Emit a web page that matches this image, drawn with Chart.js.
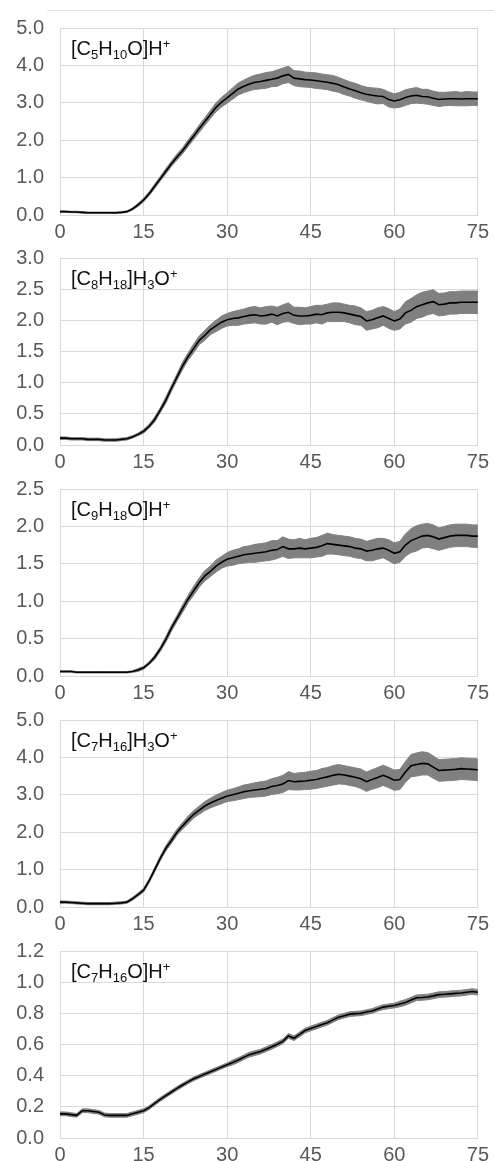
<!DOCTYPE html>
<html>
<head>
<meta charset="utf-8">
<script src="https://cdn.jsdelivr.net/npm/chart.js@4.4.1/dist/chart.umd.min.js"></script>
<style>
  html, body { margin: 0; padding: 0; background: #fff; overflow: hidden; }
  #page { position: relative; width: 494px; height: 1161px; }
  .frame-line { position: absolute; left: 47px; top: 10px; width: 447px; height: 1px; background: #e3e3e3; }
  .panel { position: absolute; left: 0; width: 494px; height: 250px; }
</style>
</head>
<body>
<div id="page">
  <div class="frame-line"></div>
  <div class="panel" style="top:0px"><canvas id="c1"></canvas></div>
  <div class="panel" style="top:230px"><canvas id="c2"></canvas></div>
  <div class="panel" style="top:461px"><canvas id="c3"></canvas></div>
  <div class="panel" style="top:692px"><canvas id="c4"></canvas></div>
  <div class="panel" style="top:923px"><canvas id="c5"></canvas></div>
</div>
<script>
// time axis (min)
const times = [0,1,2,3,4,5,6,7,8,9,10,11,12,13,14,15,16,17,18,19,20,21,22,23,24,25,26,27,28,29,30,31,32,33,34,35,36,37,38,39,40,41,42,43,44,45,46,47,48,49,50,51,52,53,54,55,56,57,58,59,60,61,62,63,64,65,66,67,68,69,70,71,72,73,74,75];
const xTicks = [0, 15, 30, 45, 60, 75];

// [C5H10O]H+
const c5h10o = [0.09,0.09,0.08,0.08,0.07,0.06,0.06,0.06,0.06,0.06,0.06,0.07,0.09,0.16,0.27,0.40,0.57,0.77,0.97,1.17,1.37,1.55,1.72,1.92,2.11,2.31,2.50,2.69,2.88,3.02,3.13,3.25,3.37,3.44,3.50,3.55,3.57,3.60,3.63,3.66,3.72,3.76,3.66,3.64,3.62,3.61,3.59,3.57,3.55,3.52,3.48,3.42,3.37,3.32,3.27,3.23,3.20,3.18,3.17,3.09,3.05,3.08,3.14,3.18,3.20,3.17,3.16,3.12,3.09,3.10,3.11,3.11,3.10,3.11,3.11,3.11];
const c5h10oErr = [0.02,0.02,0.02,0.02,0.02,0.02,0.02,0.02,0.02,0.02,0.02,0.02,0.02,0.03,0.04,0.05,0.05,0.06,0.06,0.07,0.07,0.08,0.08,0.09,0.09,0.10,0.10,0.11,0.12,0.13,0.14,0.15,0.16,0.17,0.18,0.19,0.20,0.21,0.20,0.22,0.21,0.22,0.20,0.21,0.20,0.20,0.21,0.20,0.20,0.21,0.20,0.20,0.19,0.20,0.19,0.19,0.20,0.21,0.19,0.20,0.19,0.20,0.21,0.20,0.21,0.19,0.20,0.19,0.19,0.18,0.18,0.19,0.18,0.19,0.18,0.18];

// [C8H18]H3O+
const c8h18 = [0.11,0.11,0.10,0.10,0.10,0.09,0.09,0.09,0.08,0.08,0.08,0.09,0.10,0.13,0.17,0.22,0.30,0.41,0.56,0.72,0.91,1.09,1.27,1.42,1.55,1.68,1.76,1.85,1.91,1.97,2.01,2.03,2.04,2.06,2.08,2.09,2.07,2.08,2.10,2.07,2.11,2.13,2.08,2.07,2.07,2.08,2.10,2.09,2.12,2.13,2.13,2.12,2.10,2.08,2.06,1.99,2.01,2.04,2.07,2.03,1.99,2.02,2.12,2.16,2.22,2.25,2.28,2.30,2.25,2.26,2.28,2.28,2.29,2.29,2.29,2.29];
const c8h18Err = [0.02,0.02,0.02,0.02,0.02,0.02,0.02,0.02,0.02,0.02,0.02,0.02,0.02,0.02,0.02,0.03,0.03,0.04,0.04,0.05,0.05,0.05,0.06,0.06,0.07,0.07,0.08,0.08,0.09,0.10,0.10,0.11,0.12,0.12,0.13,0.13,0.13,0.14,0.13,0.14,0.14,0.15,0.13,0.14,0.13,0.14,0.14,0.15,0.14,0.15,0.15,0.14,0.14,0.15,0.14,0.15,0.15,0.16,0.15,0.16,0.15,0.16,0.18,0.19,0.19,0.20,0.19,0.19,0.18,0.18,0.18,0.18,0.18,0.18,0.18,0.18];

// [C9H18O]H+
const c9h18o = [0.06,0.06,0.06,0.05,0.05,0.05,0.05,0.05,0.05,0.05,0.05,0.05,0.05,0.06,0.08,0.11,0.17,0.25,0.36,0.49,0.64,0.77,0.90,1.03,1.14,1.25,1.34,1.40,1.47,1.52,1.56,1.58,1.60,1.62,1.63,1.64,1.65,1.66,1.68,1.69,1.73,1.70,1.70,1.71,1.70,1.71,1.72,1.74,1.77,1.76,1.75,1.74,1.73,1.71,1.70,1.67,1.68,1.70,1.71,1.68,1.64,1.66,1.75,1.81,1.84,1.87,1.88,1.86,1.83,1.85,1.87,1.88,1.88,1.88,1.87,1.87];
const c9h18oErr = [0.01,0.01,0.01,0.01,0.01,0.01,0.01,0.01,0.01,0.01,0.01,0.01,0.01,0.01,0.02,0.02,0.02,0.03,0.03,0.04,0.04,0.04,0.05,0.05,0.06,0.06,0.07,0.07,0.08,0.08,0.09,0.10,0.10,0.11,0.11,0.12,0.12,0.12,0.13,0.12,0.13,0.13,0.12,0.13,0.12,0.13,0.13,0.14,0.14,0.13,0.13,0.13,0.13,0.13,0.13,0.13,0.14,0.14,0.13,0.14,0.14,0.14,0.15,0.16,0.17,0.16,0.16,0.16,0.15,0.15,0.15,0.15,0.15,0.15,0.15,0.15];

// [C7H16]H3O+
const c7h16 = [0.13,0.13,0.12,0.11,0.10,0.09,0.09,0.09,0.09,0.09,0.10,0.11,0.13,0.22,0.33,0.45,0.70,1.00,1.30,1.57,1.78,2.00,2.17,2.33,2.48,2.59,2.70,2.78,2.85,2.91,2.97,3.00,3.04,3.08,3.11,3.13,3.15,3.17,3.22,3.25,3.29,3.38,3.35,3.36,3.37,3.39,3.41,3.45,3.48,3.52,3.55,3.53,3.50,3.47,3.43,3.35,3.41,3.46,3.52,3.46,3.39,3.41,3.61,3.78,3.81,3.84,3.83,3.74,3.65,3.66,3.67,3.68,3.70,3.69,3.68,3.67];
const c7h16Err = [0.03,0.03,0.03,0.03,0.03,0.03,0.03,0.03,0.03,0.03,0.03,0.03,0.03,0.04,0.04,0.05,0.05,0.06,0.06,0.07,0.08,0.08,0.09,0.10,0.10,0.11,0.12,0.13,0.14,0.15,0.15,0.16,0.17,0.18,0.18,0.19,0.20,0.20,0.21,0.22,0.23,0.24,0.22,0.23,0.23,0.24,0.24,0.25,0.25,0.26,0.26,0.25,0.25,0.25,0.26,0.26,0.26,0.27,0.27,0.27,0.27,0.27,0.28,0.30,0.31,0.31,0.30,0.30,0.29,0.29,0.29,0.29,0.29,0.29,0.29,0.29];

// [C7H16O]H+
const c7h16o = [0.155,0.155,0.150,0.145,0.175,0.175,0.170,0.165,0.148,0.145,0.145,0.145,0.145,0.155,0.165,0.175,0.195,0.222,0.248,0.272,0.295,0.318,0.340,0.360,0.380,0.395,0.410,0.425,0.440,0.455,0.470,0.485,0.500,0.518,0.535,0.545,0.555,0.570,0.585,0.602,0.620,0.655,0.640,0.665,0.690,0.703,0.715,0.728,0.740,0.758,0.775,0.785,0.795,0.798,0.800,0.808,0.815,0.828,0.840,0.845,0.850,0.860,0.870,0.885,0.900,0.902,0.905,0.912,0.920,0.922,0.925,0.928,0.930,0.935,0.940,0.935];
const c7h16oErr = [0.012,0.012,0.012,0.012,0.012,0.012,0.012,0.012,0.012,0.012,0.012,0.012,0.012,0.012,0.012,0.012,0.012,0.012,0.012,0.012,0.012,0.012,0.012,0.012,0.012,0.012,0.012,0.012,0.012,0.012,0.012,0.015,0.015,0.015,0.015,0.015,0.015,0.015,0.015,0.015,0.015,0.015,0.015,0.015,0.015,0.015,0.015,0.015,0.015,0.015,0.015,0.015,0.015,0.015,0.015,0.015,0.015,0.015,0.015,0.015,0.015,0.018,0.018,0.018,0.018,0.018,0.018,0.018,0.018,0.018,0.018,0.018,0.018,0.018,0.018,0.018];

// panel labels: [text, 'n' | 'sub' | 'sup']
const label1 = [['[C', 'n'], ['5', 'sub'], ['H', 'n'], ['10', 'sub'], ['O]H', 'n'], ['+', 'sup']];
const label2 = [['[C', 'n'], ['8', 'sub'], ['H', 'n'], ['18', 'sub'], [']H', 'n'], ['3', 'sub'], ['O', 'n'], ['+', 'sup']];
const label3 = [['[C', 'n'], ['9', 'sub'], ['H', 'n'], ['18', 'sub'], ['O]H', 'n'], ['+', 'sup']];
const label4 = [['[C', 'n'], ['7', 'sub'], ['H', 'n'], ['16', 'sub'], [']H', 'n'], ['3', 'sub'], ['O', 'n'], ['+', 'sup']];
const label5 = [['[C', 'n'], ['7', 'sub'], ['H', 'n'], ['16', 'sub'], ['O]H', 'n'], ['+', 'sup']];

const FONT = '"Liberation Sans", Arial, Helvetica, sans-serif';
const GRID = '#d9d9d9';

// draws the species name with sub/superscripts in the top-left of the plot
const panelLabel = {
    id: 'panelLabel',
    afterDraw(chart, args, opts) {
        const ctx = chart.ctx;
        let x = chart.chartArea.left + 11;
        const y = chart.chartArea.top + 27;
        ctx.save();
        ctx.fillStyle = '#111';
        ctx.textAlign = 'left';
        ctx.textBaseline = 'alphabetic';
        opts.parts.forEach(([txt, kind]) => {
            const size = kind === 'n' ? 20 : 13;
            ctx.font = size + 'px ' + FONT;
            const off = kind === 'sub' ? 4 : (kind === 'sup' ? -7 : 0);
            ctx.fillText(txt, x, y + off);
            x += ctx.measureText(txt).width;
        });
        ctx.restore();
    }
};

function makePanel(id, mean, err, yMax, yStep, parts) {
    const line = times.map((t, i) => ({ x: t, y: mean[i] }));
    const upper = times.map((t, i) => ({ x: t, y: mean[i] + err[i] }));
    const lower = times.map((t, i) => ({ x: t, y: mean[i] - err[i] }));

    return new Chart(document.getElementById(id), {
        type: 'line',
        data: {
            datasets: [
                { data: line, borderColor: '#000', borderWidth: 1.6, pointRadius: 0, fill: false },
                { data: upper, borderColor: '#808080', borderWidth: 1, backgroundColor: '#808080', pointRadius: 0, fill: '+1' },
                { data: lower, borderColor: '#808080', borderWidth: 1, pointRadius: 0, fill: false }
            ]
        },
        options: {
            responsive: true,
            maintainAspectRatio: false,
            animation: false,
            layout: { padding: { top: 23, left: 0, right: 13, bottom: 0 } },
            plugins: {
                legend: { display: false },
                tooltip: { enabled: false },
                panelLabel: { parts: parts }
            },
            scales: {
                x: {
                    type: 'linear',
                    min: 0,
                    max: 75,
                    afterBuildTicks: (scale) => { scale.ticks = xTicks.map(v => ({ value: v })); },
                    afterFit: (scale) => { scale.height = 35; },
                    grid: { color: GRID, drawTicks: false },
                    border: { display: false },
                    ticks: { color: '#595959', padding: 5, maxRotation: 0, font: { family: FONT, size: 20 } }
                },
                y: {
                    min: 0,
                    max: yMax,
                    afterFit: (scale) => { scale.width = 60; },
                    grid: { color: GRID, drawTicks: false },
                    border: { display: false },
                    ticks: {
                        stepSize: yStep,
                        color: '#595959',
                        padding: 16,
                        font: { family: FONT, size: 20 },
                        callback: (v) => v.toFixed(1)
                    }
                }
            }
        },
        plugins: [panelLabel]
    });
}

makePanel('c1', c5h10o, c5h10oErr, 5, 1, label1);
makePanel('c2', c8h18, c8h18Err, 3, 0.5, label2);
makePanel('c3', c9h18o, c9h18oErr, 2.5, 0.5, label3);
makePanel('c4', c7h16, c7h16Err, 5, 1, label4);
makePanel('c5', c7h16o, c7h16oErr, 1.2, 0.2, label5);
</script>
</body>
</html>
